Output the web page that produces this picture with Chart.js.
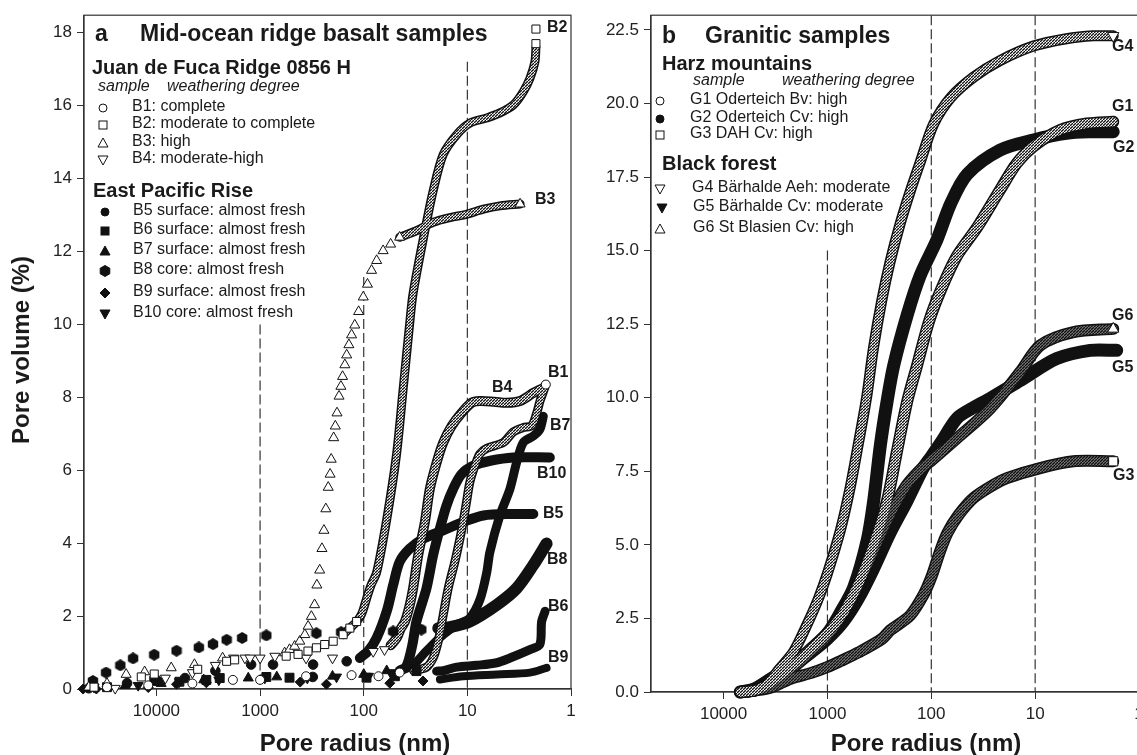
<!DOCTYPE html>
<html>
<head>
<meta charset="utf-8">
<script src="https://cdn.jsdelivr.net/npm/chart.js@4"></script>
<style>
  html, body { margin: 0; padding: 0; overflow: hidden; background: #fff; }
  body { position: relative; width: 1137px; height: 755px; font-family: 'Liberation Sans', Arial, sans-serif; color: #1a1a1a; }
  canvas { position: absolute; top: 0; }
  #chartA { left: 0; }
  #chartB { left: 590px; }
  .t { position: absolute; white-space: nowrap; line-height: 20px; font-size: 16px; }
  .big { font-weight: bold; font-size: 23px; line-height: 26px; }
  .head { font-weight: bold; font-size: 20px; }
  .it { font-style: italic; font-size: 16px; }
  .lab { font-weight: bold; font-size: 16px; }
  .axt { position: absolute; white-space: nowrap; font-weight: bold; font-size: 24px; line-height: 28px; transform: translate(-50%, -50%); }
  .mk { position: absolute; width: 12px; height: 12px; }
</style>
</head>
<body>
<canvas id="chartA" width="590" height="755"></canvas>
<canvas id="chartB" width="570" height="755"></canvas>

<!-- panel a legend -->
<div class="t big" style="left:95px;top:20px">a</div>
<div class="t big" style="left:140px;top:20px">Mid-ocean ridge basalt samples</div>
<div class="t head" style="left:92px;top:57px">Juan de Fuca Ridge 0856 H</div>
<div class="t it" style="left:98px;top:76px">sample</div>
<div class="t it" style="left:167px;top:76px">weathering degree</div>
<div id="legA"></div>
<div class="t head" style="left:93px;top:180px">East Pacific Rise</div>

<!-- panel b legend -->
<div class="t big" style="left:662px;top:22px">b</div>
<div class="t big" style="left:705px;top:22px">Granitic samples</div>
<div class="t head" style="left:662px;top:53px">Harz mountains</div>
<div class="t it" style="left:693px;top:70px">sample</div>
<div class="t it" style="left:782px;top:70px">weathering degree</div>
<div class="t head" style="left:662px;top:153px">Black forest</div>
<div id="legB"></div>

<!-- curve labels -->
<div class="t lab" style="left:547px;top:17px">B2</div>
<div class="t lab" style="left:535px;top:189px">B3</div>
<div class="t lab" style="left:492px;top:377px">B4</div>
<div class="t lab" style="left:548px;top:362px">B1</div>
<div class="t lab" style="left:550px;top:415px">B7</div>
<div class="t lab" style="left:537px;top:463px">B10</div>
<div class="t lab" style="left:543px;top:503px">B5</div>
<div class="t lab" style="left:547px;top:549px">B8</div>
<div class="t lab" style="left:548px;top:596px">B6</div>
<div class="t lab" style="left:548px;top:647px">B9</div>
<div class="t lab" style="left:1112px;top:36px">G4</div>
<div class="t lab" style="left:1112px;top:96px">G1</div>
<div class="t lab" style="left:1113px;top:137px">G2</div>
<div class="t lab" style="left:1112px;top:305px">G6</div>
<div class="t lab" style="left:1112px;top:357px">G5</div>
<div class="t lab" style="left:1113px;top:465px">G3</div>

<div class="axt" style="left:21px;top:350px;transform:translate(-50%,-50%) rotate(-90deg)">Pore volume (%)</div>
<div class="axt" style="left:355px;top:743px">Pore radius (nm)</div>
<div class="axt" style="left:926px;top:743px">Pore radius (nm)</div>

<script>
// ticks and guide lines
const radiusTicks = [10000, 1000, 100, 10, 1];
const volumeTicksA = [0, 2, 4, 6, 8, 10, 12, 14, 16, 18];
const volumeTicksB = [0, 2.5, 5, 7.5, 10, 12.5, 15, 17.5, 20, 22.5];
const guideRadii = [1000, 100, 10];
const guideTopA = [10.0, 11.3, 17.2];
const guideTopB = [15.0, 23.0, 23.0];

// panel a - [pore radius nm, pore volume %], single points and dense part
const b1Points = [[30000,0.05],[12000,0.1],[4500,0.15],[1830,0.25],[1000,0.25],[360,0.35],[131,0.38],[72,0.35],[45,0.45],[1.75,8.35]];
const b1Curve = [[33,0.5],[24.8,0.6],[21.4,0.85],[19.1,1.31],[17.1,2.03],[15.3,2.76],[13.2,3.49],[11.8,4.12],[11,4.58],[10.2,5.12],[9.46,5.67],[8.45,6.12],[7.56,6.45],[6.5,6.6],[4.5,6.76],[3.6,7.05],[2.89,7.17],[2.4,7.22],[2.14,7.57],[1.99,7.9],[1.85,8.15],[1.75,8.35]];

const b2Points = [[40000,0.05],[14000,0.33],[10500,0.41],[4000,0.54],[2100,0.76],[1760,0.8],[560,0.9],[430,0.95],[345,1.04],[286,1.13],[238,1.22],[197,1.31],[158,1.49],[136,1.67],[117,1.85],[2.18,17.7],[2.18,18.1]];
const b2Curve = [[158,1.49],[136,1.67],[117,1.85],[105,2.05],[98,2.3],[91,2.6],[85,2.85],[75,3.2],[60,4.65],[48.4,6.4],[41.7,8.21],[36,10.03],[33.4,10.85],[25.7,12.57],[21.4,13.66],[17.1,14.66],[12.7,15.2],[9.46,15.52],[6.53,15.66],[4.85,15.8],[3.6,16.02],[2.89,16.38],[2.49,16.75],[2.23,17.2],[2.18,17.6]];

const b3Points = [[45000,0.05],[30000,0.15],[19600,0.4],[13000,0.47],[7200,0.58],[4300,0.67],[2300,0.85],[580,0.99],[520,1.08],[464,1.17],[414,1.31],[370,1.49],[344,1.72],[320,1.99],[298,2.31],[283,2.85],[266,3.26],[253,3.85],[242,4.35],[232,4.94],[220,5.53],[211,5.89],[206,6.3],[195,6.89],[188,7.21],[181,7.57],[173,8.03],[166,8.3],[160,8.57],[152,8.89],[146,9.16],[139,9.44],[131,9.71],[122,9.98],[112,10.35],[101,10.75],[92,11.1],[84,11.48],[75,11.75],[65,12.02],[55,12.2],[45,12.39],[3.1,13.3]];
const b3Curve = [[45,12.39],[30.9,12.57],[21.4,12.8],[14.7,12.93],[10.2,13.02],[7,13.16],[4.85,13.25],[3.1,13.3]];

const b4Points = [[25000,0.02],[8200,0.3],[4500,0.45],[2700,0.65],[1800,0.85],[1400,0.85],[1250,0.85],[1000,0.85],[720,0.9],[360,0.85],[200,0.85],[81,1.03],[63,1.08]];
const b4Curve = [[55,1.2],[48,1.4],[44,1.65],[40,1.85],[36,2.3],[33.4,2.76],[29.8,3.67],[25.7,4.58],[23,5.49],[19.8,6.21],[17.1,6.76],[14.2,7.21],[11.4,7.57],[9.1,7.85],[7.56,7.9],[5.5,7.88],[4.18,7.85],[3.1,7.9],[2.31,8.12],[1.85,8.26]];

const b5Points = [[45000,0.02],[19200,0.16],[10000,0.25],[5300,0.3],[2700,0.5],[1220,0.67],[750,0.67],[310,0.33],[308,0.67],[146,0.76]];
const b5Curve = [[109,0.85],[90,1.05],[75,1.4],[60,2.13],[52,2.85],[45,3.49],[36,3.85],[26.8,4.12],[17.1,4.35],[11,4.58],[7,4.76],[3.6,4.8],[2.31,4.8]];

const b6Points = [[30000,0.05],[10500,0.22],[6000,0.2],[3300,0.25],[2450,0.3],[870,0.33],[520,0.31],[94,0.31],[50,0.35],[31,0.49]];
const b6Curve = [[19.8,0.49],[17.1,0.5],[12.7,0.6],[8.1,0.65],[5.2,0.72],[3.88,0.85],[2.49,1.08],[2,1.22],[1.92,1.85],[1.78,2.13]];

const b7Points = [[40000,0.02],[20000,0.1],[9000,0.15],[3500,0.25],[1300,0.3],[690,0.33],[200,0.35],[100,0.4],[60,0.5]];
const b7Curve = [[40,0.55],[33,0.67],[25,1.03],[17.1,1.49],[12.7,1.76],[9.5,1.94],[7.56,2.45],[6.5,3.2],[6.06,3.76],[4.85,4.76],[3.88,5.49],[3.35,6.21],[2.89,6.76],[2.31,6.94],[2,7.12],[1.85,7.48]];

const b8Points = [[41000,0.22],[30600,0.45],[22300,0.65],[16800,0.84],[10500,0.94],[6400,1.05],[3900,1.14],[2850,1.23],[2100,1.35],[1490,1.4],[870,1.47],[286,1.53],[165,1.56],[52,1.58],[27.8,1.63]];
const b8Curve = [[19.1,1.67],[14.7,1.7],[9.5,1.85],[5.2,2.31],[3.35,2.76],[2.31,3.4],[1.72,3.99]];

const b9Points = [[51000,0],[38000,0],[12000,0.04],[6400,0.13],[3300,0.17],[410,0.19],[229,0.13],[56,0.16],[26.8,0.22]];
const b9Curve = [[18.4,0.26],[11,0.35],[5.2,0.4],[2.49,0.45],[1.72,0.58]];

const b10Points = [[40000,0.05],[15000,0.1],[6000,0.2],[2500,0.25],[900,0.3],[350,0.3],[183,0.33],[90,0.35],[55,0.45]];
const b10Curve = [[45,0.5],[38.8,0.62],[34,1.2],[31,1.85],[24.8,2.76],[21.4,3.67],[18.4,4.4],[15.9,5.03],[13.7,5.49],[11.4,5.89],[8.8,6.12],[6,6.26],[3.6,6.35],[1.6,6.35]];

// panel b - granitic samples
const g1Curve = [[6900,0],[5000,0.05],[4000,0.2],[3000,0.5],[2000,1.0],[1400,1.5],[1000,2.0],[700,2.7],[518,3.56],[359,5.02],[267,6.49],[214,8.18],[171,9.86],[137,11.1],[105,12.6],[80,13.7],[57,14.8],[36,15.8],[21.7,17.07],[15,17.97],[10.4,18.54],[5.75,19.1],[3.18,19.32],[1.77,19.38]];
const g2Curve = [[6900,0],[5500,0.05],[4500,0.2],[3500,0.45],[2270,0.85],[1500,1.4],[1006,1.98],[750,2.7],[558,3.56],[415,5.14],[359,6.49],[309,8.4],[267,9.86],[230,11.1],[171,12.8],[128,14.15],[88,15.38],[65,16.6],[45,17.6],[21.7,18.42],[10.4,18.76],[5,18.99],[2.75,19.04],[1.77,19.04]];
const g3Curve = [[6900,0],[5000,0.05],[3500,0.15],[2270,0.45],[1430,0.65],[1000,0.85],[750,1.05],[500,1.35],[300,1.8],[248,2.1],[160,2.6],[119,3.3],[100,3.9],[82,4.8],[70,5.4],[55,6.0],[39,6.6],[25,7.05],[18.7,7.27],[8.94,7.61],[4.28,7.84],[1.77,7.84]];
const g4Curve = [[6900,0],[6000,0],[5200,0.02],[4600,0.08],[3960,0.2],[2900,0.78],[2110,1.38],[1550,2.34],[1220,3.18],[1006,4.0],[750,5.5],[600,7.0],[500,8.5],[420,10.0],[360,11.7],[300,13.3],[250,14.6],[200,15.9],[160,17.0],[128,18.0],[95,19.3],[65,20.2],[39,20.9],[22,21.45],[10.4,21.95],[5,22.2],[2.75,22.3],[1.77,22.3]];
const g5Curve = [[6900,0],[5000,0.1],[4000,0.3],[3000,0.55],[2270,0.85],[1500,1.3],[1006,1.8],[700,2.4],[500,3.2],[359,4.2],[250,5.4],[171,6.5],[120,7.6],[100,8.0],[80,8.5],[56.6,9.3],[40,9.65],[27,9.98],[13,10.65],[6.18,11.33],[2.96,11.61],[1.64,11.61]];
const g6Curve = [[6900,0],[5000,0.05],[4000,0.2],[3000,0.45],[2200,0.8],[1500,1.3],[1000,1.9],[700,2.7],[500,3.7],[380,4.6],[288,5.55],[220,6.4],[171,7.05],[120,7.65],[102,7.84],[56.6,8.62],[27,9.64],[13.9,10.88],[8.94,11.78],[4.28,12.23],[1.77,12.34]];

// marker images / patterns
function hexImage(d) {
    const c = document.createElement('canvas');
    c.width = c.height = d;
    const g = c.getContext('2d');
    g.fillStyle = '#111';
    g.beginPath();
    for (let i = 0; i < 6; i++) {
        const a = Math.PI / 6 + i * Math.PI / 3;
        g.lineTo(d / 2 + d / 2 * Math.cos(a), d / 2 + d / 2 * Math.sin(a));
    }
    g.closePath();
    g.fill();
    return c;
}
function hatch(size, lw, bg) {
    const c = document.createElement('canvas');
    c.width = c.height = size;
    const g = c.getContext('2d');
    g.fillStyle = bg;
    g.fillRect(0, 0, size, size);
    g.strokeStyle = '#111';
    g.lineWidth = lw;
    g.beginPath();
    g.moveTo(-1, size + 1); g.lineTo(size + 1, -1);
    g.stroke();
    return g.createPattern(c, 'repeat');
}
const hexMark = hexImage(12);
const hatchLight = hatch(3, 1.3, '#fff');
const hatchDark = hatch(3, 1.3, '#777');

// series styles
const seriesA = [
    { pts: b1Points, curve: b1Curve, shape: 'circle', size: 4.5, open: true, w: 9 },
    { pts: b2Points, curve: b2Curve, shape: 'rect', size: 5.7, open: true, w: 9 },
    { pts: b3Points, curve: b3Curve, shape: 'triangle', size: 5.8, open: true, w: 9 },
    { pts: b4Points, curve: b4Curve, shape: 'triangle', flip: true, size: 5.8, open: true, w: 10 },
    { pts: b5Points, curve: b5Curve, shape: 'circle', size: 4.8, w: 10 },
    { pts: b6Points, curve: b6Curve, shape: 'rect', size: 6.3, w: 9 },
    { pts: b7Points, curve: b7Curve, shape: 'triangle', size: 5.8, w: 9 },
    { pts: b8Points, curve: b8Curve, shape: 'hex', size: 6, w: 12 },
    { pts: b9Points, curve: b9Curve, shape: 'rectRot', size: 5, w: 8 },
    { pts: b10Points, curve: b10Curve, shape: 'triangle', flip: true, size: 5.8, w: 10 }
];
const seriesB = [
    { pts: [], curve: g1Curve, shape: 'circle', size: 5, open: true, w: 12 },
    { pts: [], curve: g2Curve, shape: 'circle', size: 5, w: 13 },
    { pts: [], curve: g3Curve, shape: 'rect', size: 6.5, open: true, dark: true, w: 12, endMark: true },
    { pts: [], curve: g4Curve, shape: 'triangle', flip: true, size: 6.5, open: true, w: 11, endMark: true },
    { pts: [], curve: g5Curve, shape: 'triangle', flip: true, size: 6, w: 13 },
    { pts: [], curve: g6Curve, shape: 'triangle', size: 6.5, open: true, dark: true, w: 12, endMark: true }
];

const xy = arr => arr.map(p => ({ x: p[0], y: p[1] }));

function markerStyle(s) {
    return {
        pointStyle: s.shape === 'hex' ? hexMark : s.shape,
        rotation: s.flip ? 180 : 0,
        pointBackgroundColor: s.open ? '#fff' : '#111',
        pointBorderColor: '#111',
        pointBorderWidth: 1
    };
}

function buildDatasets(series, tops) {
    const sets = [];
    guideRadii.forEach((r, i) => {
        sets.push({ data: [{ x: r, y: tops[i] }, { x: r, y: 0 }], showLine: true, pointRadius: 0,
            borderColor: '#333', borderWidth: 1.2, borderDash: [10, 4], order: 5 });
    });
    series.forEach(s => {
        const base = { data: xy(s.curve), showLine: true, pointRadius: 0, tension: 0.3, clip: false,
            borderCapStyle: 'round', borderJoinStyle: 'round' };
        sets.push({ ...base, borderColor: '#111', borderWidth: s.w, order: 3 });
        if (s.open) {
            const last = s.curve.length - 1;
            sets.push({ ...base, ...markerStyle(s), borderColor: s.dark ? hatchDark : hatchLight, borderWidth: s.w - 3, order: 2,
                pointRadius: ctx => (s.endMark && ctx.dataIndex === last) ? s.size : 0 });
        }
        if (s.pts.length) {
            sets.push({ data: xy(s.pts), showLine: false, clip: false, order: 1, pointRadius: s.size, ...markerStyle(s) });
        }
    });
    return sets;
}

const frame = {
    id: 'frame',
    beforeDatasetsDraw(chart) {
        const a = chart.chartArea, c = chart.ctx;
        c.save();
        c.strokeStyle = '#333';
        c.lineWidth = 1.2;
        c.strokeRect(a.left, a.top, a.right - a.left, a.bottom - a.top);
        c.restore();
    }
};

Chart.defaults.font.family = "'Liberation Sans', Arial, sans-serif";
Chart.defaults.color = '#222';

function makeChart(id, series, tops, yTicks, yMax, yWidth, xHeight, pad, fmt) {
    return new Chart(document.getElementById(id), {
        type: 'scatter',
        data: { datasets: buildDatasets(series, tops) },
        options: {
            responsive: false,
            animation: false,
            events: [],
            layout: { padding: pad },
            plugins: { legend: { display: false }, tooltip: { enabled: false } },
            scales: {
                x: {
                    type: 'logarithmic', reverse: true, min: 1, max: 50000,
                    afterBuildTicks: sc => { sc.ticks = radiusTicks.map(v => ({ value: v })); },
                    afterFit: sc => { sc.height = xHeight; },
                    ticks: { font: { size: 17 }, padding: 5, maxRotation: 0, autoSkip: false, callback: v => String(v) },
                    grid: { drawOnChartArea: false, tickLength: 7, color: '#333' },
                    border: { color: '#333', width: 1.2 }
                },
                y: {
                    min: 0, max: yMax,
                    afterBuildTicks: sc => { sc.ticks = yTicks.map(v => ({ value: v })); },
                    afterFit: sc => { sc.width = yWidth; },
                    ticks: { font: { size: 17 }, padding: 5, callback: fmt },
                    grid: { drawOnChartArea: false, tickLength: 7, color: '#333' },
                    border: { color: '#333', width: 1.2 }
                }
            }
        },
        plugins: [frame]
    });
}

makeChart('chartA', seriesA, guideTopA, volumeTicksA, 18.48, 84, 66, { top: 10, right: 19, left: 0, bottom: 0 }, v => String(v));
makeChart('chartB', seriesB, guideTopB, volumeTicksB, 23.0, 61, 63, { top: 11, right: 21, left: 0, bottom: 0 }, v => v.toFixed(1));

// legend markers (svg)
function svgMark(shape, open, flip) {
    const fill = open ? '#fff' : '#111';
    let el;
    if (shape === 'circle') el = '<circle cx="6" cy="6" r="4"/>';
    else if (shape === 'rect') el = '<rect x="2" y="2" width="8" height="8"/>';
    else if (shape === 'rectRot') el = '<polygon points="6,1 11,6 6,11 1,6"/>';
    else if (shape === 'hex') el = '<polygon points="6,0.5 10.8,3.2 10.8,8.8 6,11.5 1.2,8.8 1.2,3.2"/>';
    else el = flip ? '<polygon points="1,2 11,2 6,11"/>' : '<polygon points="6,1 11,10 1,10"/>';
    return '<svg width="12" height="12" viewBox="0 0 12 12"><g fill="' + fill + '" stroke="#111" stroke-width="1">' + el + '</g></svg>';
}
const legendA = [
    ['B1: complete', 106, 103, 132], ['B2: moderate to complete', 123, 103, 132],
    ['B3: high', 141, 103, 132], ['B4: moderate-high', 158, 103, 132],
    ['B5 surface: almost fresh', 210, 105, 133], ['B6 surface: almost fresh', 229, 105, 133],
    ['B7 surface: almost fresh', 249, 105, 133], ['B8 core: almost fresh', 269, 105, 133],
    ['B9 surface: almost fresh', 291, 105, 133], ['B10 core: almost fresh', 312, 105, 133]
];
const legendB = [
    ['G1 Oderteich Bv: high', 99, 660, 690], ['G2 Oderteich Cv: high', 117, 660, 690],
    ['G3 DAH Cv: high', 133, 660, 690], ['G4 Bärhalde Aeh: moderate', 187, 660, 692],
    ['G5 Bärhalde Cv: moderate', 206, 662, 693], ['G6 St Blasien Cv: high', 227, 660, 693]
];
function fillLegend(id, rows, series) {
    let html = '';
    rows.forEach((r, i) => {
        const s = series[i];
        html += '<div class="mk" style="left:' + (r[2] - 6) + 'px;top:' + (r[1] - 6) + 'px">' + svgMark(s.shape, s.open, s.flip) + '</div>';
        html += '<div class="t" style="left:' + r[3] + 'px;top:' + (r[1] - 10) + 'px">' + r[0] + '</div>';
    });
    document.getElementById(id).innerHTML = html;
}
fillLegend('legA', legendA, seriesA);
fillLegend('legB', legendB, seriesB);
</script>
</body>
</html>
